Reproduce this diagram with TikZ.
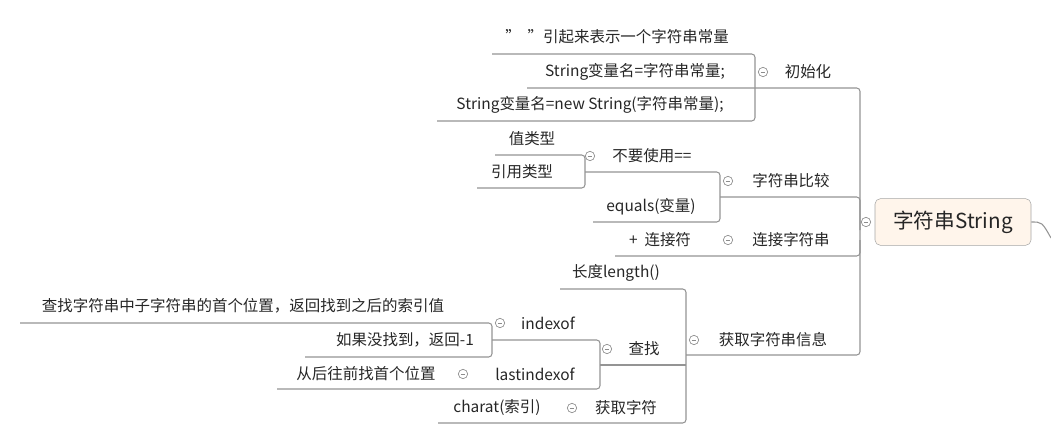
\documentclass[tikz,border=0pt]{standalone}
\usepackage{fontspec}
\setmainfont{Noto Sans CJK SC}
\usepackage{tikz}

\tikzset{
  ln/.style={draw=black!42, line width=0.8pt, rounded corners=2.5pt},
  txt/.style={font=\fontsize{11.6}{13}\selectfont, inner sep=0pt, text=black!85},
  fold/.style={circle, draw=black!45, line width=0.5pt, minimum size=7pt, inner sep=0pt,
    path picture={\draw[black!45, line width=0.5pt] ([xshift=-1.8pt]path picture bounding box.center) -- ([xshift=1.8pt]path picture bounding box.center);}}
}

\begin{document}
\begin{tikzpicture}[x=0.75pt, y=-0.75pt]
            \useasboundingbox (0,0) rectangle (1051,447);

            % root
            \node[draw=black!35, fill=orange!8, rounded corners=4pt, minimum width=117pt,
              minimum height=35pt, font=\fontsize{15.5}{17}\selectfont, text=black!85] (root) at (953,222) {字符串String};
            \node[fold] (froot) at (866,222) {};
            \draw[ln] (root.east) .. controls (1042,222) .. (1051,238);

            % main bracket
            \coordinate (m1) at (860,88);
            \coordinate (m2) at (860,355);
            \draw[ln] (527,88) -- (m1) -- (m2) -- (686,355);
            \draw[ln] (720,197) -| (860,230);
            \draw[ln] (615,256) -| (860,240);

            % init
            \node[txt] (init) at (808,72) {初始化};
            \node[fold] (finit) at (763,72) {};
            \node[txt] (i1) at (617,37) {"\ \ "引起来表示一个字符串常量};
            \node[txt] (i2) at (635,72) {String变量名=字符串常量;};
            \node[txt] (i3) at (590,105) {String变量名=new String(字符串常量);};
            \draw[ln] (492,54) -| (755,121) -- (437,121);

            % compare
            \node[txt] (cmp) at (791,181) {字符串比较};
            \node[fold] (fcmp) at (728,181) {};
            \node[txt] (c1) at (652,156) {不要使用==};
            \node[fold] (fc1) at (590,156) {};
            \node[txt] (c11) at (532,139) {值类型};
            \node[txt] (c12) at (522,172) {引用类型};
            \node[txt] (c2) at (651,207) {equals(变量)};
            \draw[ln] (495,155) -| (585,188) -- (477,188);
            \draw[ln] (585,172) -| (720,222) -- (593,222);

            % concat
            \node[txt] (cat) at (791,240) {连接字符串};
            \node[fold] (fcat) at (728,240) {};
            \node[txt] (cat1) at (660,240) {+\ \ 连接符};

            % info
            \node[txt] (inf) at (773,340) {获取字符串信息};
            \node[fold] (finf) at (694,340) {};
            \node[txt] (len) at (616,273) {长度length()};
            \draw[ln] (560,289) -| (686,423) -- (438,423);
            \draw[ln] (600,365) -- (686,365);

            \node[txt] (fnd) at (644,349) {查找};
            \node[fold] (ffnd) at (607,349) {};
            \draw[ln] (492,340) -| (600,389) -- (277,389);

            \node[txt] (idx) at (548,323) {indexof};
            \node[fold] (fidx) at (500,323) {};
            \node[txt] (idx1) at (243,306) {查找字符串中子字符串的首个位置，返回找到之后的索引值};
            \node[txt] (idx2) at (405,340) {如果没找到，返回-1};
            \draw[ln] (20,323) -| (492,357) -- (305,357);

            \node[txt] (lidx) at (535,374) {lastindexof};
            \node[fold] (flidx) at (463,374) {};
            \node[txt] (lidx1) at (366,374) {从后往前找首个位置};

            \node[txt] (chr) at (626,408) {获取字符};
            \node[fold] (fchr) at (572,408) {};
            \node[txt] (chr1) at (497,408) {charat(索引)};
\end{tikzpicture}
\end{document}
